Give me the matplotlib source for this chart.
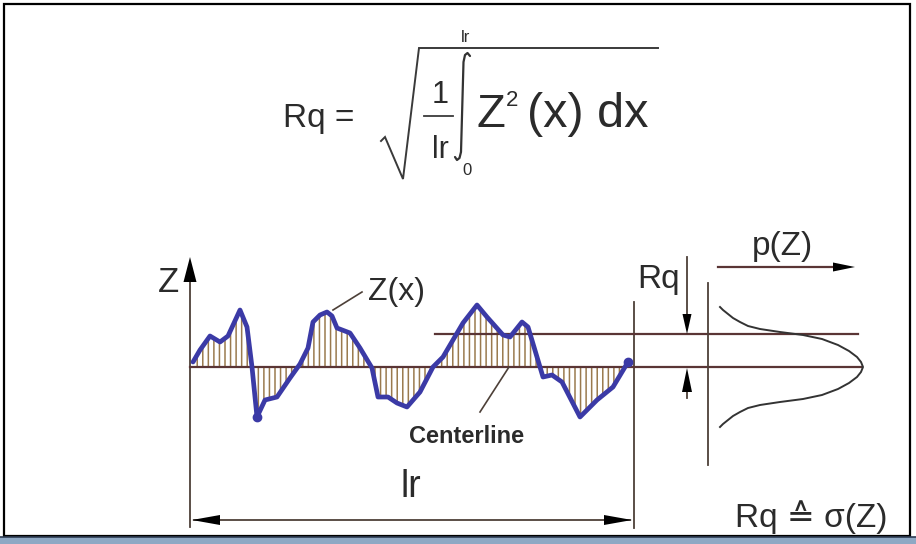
import matplotlib.pyplot as plt
from matplotlib.patches import Rectangle

# profile Z(x) (x in px, z in px above the centerline)
profile_x = [193, 200, 210, 220, 228, 240, 247, 252, 257, 265, 277, 290, 300, 308,
             313, 320, 327, 332, 337, 350, 360, 372, 378, 388, 397, 407, 420, 433,
             443, 463, 477, 487, 503, 510, 522, 528, 537, 543, 552, 562, 580, 597,
             613, 628]
profile_z = [5, 17, 31, 25, 31, 57, 40, 0, -50, -33, -30, -11, 3, 19,
             45, 52, 55, 51, 39, 34, 19, -1, -30, -30, -36, -40, -25, 0,
             10, 44, 62, 50, 32, 30, 45, 40, 10, -10, -8, -15, -50, -33,
             -20, 5]

# amplitude density p(Z): half-curve above the centerline (offset, height)
density_dz = [60, 57, 53, 49, 45, 41, 38, 35, 32, 28, 22, 16, 10, 5, 0]
density_p = [2, 5, 10, 15, 22, 30, 42, 62, 85, 104, 120, 131, 139, 143, 145]

CENTER_Y = 367
RQ_Y = 334
X0, X1 = 190, 634

TEXT = "#2b2b2b"
LINE = "#4d4038"
HLINE = "#5a3535"
BLUE = "#3b3aa6"
HATCH = "#9a7a4e"
FONT = ["Liberation Sans", "DejaVu Sans"]

plt.rcParams["hatch.linewidth"] = 1.1

fig = plt.figure(figsize=(9.16, 5.44), dpi=100)
ax = fig.add_axes([0, 0, 1, 1])
ax.set_xlim(0, 916)
ax.set_ylim(544, 0)
ax.axis("off")


def head(tip, direction, length, width, color="black"):
    tx, ty = tip
    dx, dy = direction
    bx, by = tx - dx * length, ty - dy * length
    px, py = -dy * width / 2, dx * width / 2
    ax.fill([tx, bx + px, bx - px], [ty, by + py, by - py], color=color, lw=0, zorder=5)


def txt(x, y, s, size, **kw):
    kw.setdefault("ha", "left")
    kw.setdefault("va", "baseline")
    ax.text(x, y, s, fontsize=size, color=TEXT, family=FONT, **kw)


# frame and bottom strip
ax.add_patch(Rectangle((4, 4), 906, 532, fill=False, ec="black", lw=1.6))
ax.add_patch(Rectangle((0, 537), 916, 7, fc="#8ea8c4", ec="none"))
ax.plot([0, 916], [537, 537], color="#2d3b52", lw=1.2)

# formula
txt(283, 127, "Rq =", 24)
ax.plot([381, 385, 403, 419, 658], [141, 137, 179, 48, 48], color="#3a3a3a", lw=1.4,
        solid_joinstyle="miter")
txt(440, 103, "1", 22, ha="center")
ax.plot([424, 453], [116, 116], color="#3a3a3a", lw=1.3)
txt(440, 158, "lr", 22, ha="center")
# integral sign drawn as a thin stroke
ax.plot([470, 467.5, 465, 463.5, 461, 459.5, 457, 455],
        [56, 53, 55, 62, 152, 158, 160, 157], color="#333333", lw=1.6,
        solid_capstyle="round")
txt(466, 42, "lr", 12, ha="center")
txt(467, 175, "0", 12, ha="center")
txt(477, 127, "Z", 34)
txt(506, 106, "2", 16)
txt(527, 127, "(x) dx", 35)

# axes of the profile
ax.plot([X0, X0], [262, 527], color=LINE, lw=1.3)
head((X0, 257), (0, -1), 25, 13)
txt(158, 292, "Z", 25)

ax.plot([X1, X1], [302, 528], color=LINE, lw=1.3)
ax.plot([X0 + 4, X1 - 4], [520, 520], color=LINE, lw=1.3)
head((X0 + 2, 520), (-1, 0), 28, 10)
head((X1 - 2, 520), (1, 0), 28, 10)
txt(411, 497, "lr", 27, ha="center")

# centerline and Rq line
ax.plot([X0, 862], [CENTER_Y, CENTER_Y], color=HLINE, lw=1.6, zorder=2)
ax.plot([435, 858], [RQ_Y, RQ_Y], color=HLINE, lw=1.6, zorder=2)

# hatched area and profile
py = [CENTER_Y - z for z in profile_z]
ax.fill_between(profile_x, py, CENTER_Y, facecolor="none", edgecolor=HATCH,
                hatch="|||", lw=0, zorder=1)
ax.plot(profile_x, py, color=BLUE, lw=3.4, solid_joinstyle="round",
        solid_capstyle="round", zorder=4)
ax.plot([profile_x[8], profile_x[-1]], [py[8], py[-1]], "o", color=BLUE, ms=6, zorder=4)

# labels with leaders
txt(368, 300, "Z(x)", 23)
ax.plot([362, 333], [292, 310], color=LINE, lw=1.2)
txt(467, 443, "Centerline", 17, ha="center", weight="bold")
ax.plot([480, 509], [412, 367], color=LINE, lw=1.2)

# Rq markers
ax.plot([687, 687], [257, 318], color=LINE, lw=1.3)
head((687, RQ_Y), (0, 1), 20, 9)
ax.plot([687, 687], [380, 398], color=LINE, lw=1.3)
head((687, CENTER_Y + 1), (0, -1), 24, 10)
txt(637, 288, "Rq", 24)

# density p(Z)
ax.plot([708, 708], [283, 465], color=LINE, lw=1.3)
ax.plot([718, 840], [267, 267], color=HLINE, lw=1.6)
head((855, 267), (1, 0), 22, 9)
txt(752, 255, "p(Z)", 24)
dz = density_dz + density_dz[::-1][1:]
dp = density_p + density_p[::-1][1:]
sign = [-1] * len(density_dz) + [1] * (len(density_dz) - 1)
ax.plot([718 + p for p in dp], [CENTER_Y + s * d for s, d in zip(sign, dz)],
        color="#333333", lw=1.4)

txt(735, 527, "Rq \u2259 \u03c3(Z)", 24)

fig.savefig("out.png", dpi=100)
